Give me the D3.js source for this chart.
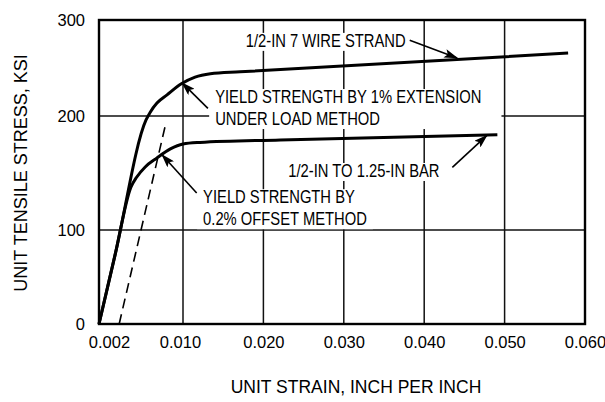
<!DOCTYPE html>
<html>
<head>
<meta charset="utf-8">
<script src="https://cdn.jsdelivr.net/npm/d3@7"></script>
<style>
body { margin: 0; background: #fff; }
svg { display: block; font-family: "Liberation Sans", Arial, Helvetica, sans-serif; }
</style>
</head>
<body>
<svg width="605" height="402"></svg>
<script>
// unit strain (in/in) vs unit tensile stress (ksi)
var strandStrain = [0, 0.0019, 0.0056, 0.0061, 0.0069, 0.0081, 0.0098, 0.0115, 0.0134, 0.0171, 0.0579];
var strandStress = [0, 73, 196.5, 204, 213.5, 222, 233.5, 240.5, 244, 246, 265.5];

var barStrain = [0, 0.0019, 0.0038, 0.0045, 0.0055, 0.0069, 0.0085, 0.0100, 0.0121, 0.0221, 0.0491];
var barStress = [0, 73, 137.5, 146.5, 155.3, 163.2, 171.1, 175.4, 176.8, 179, 183.5];

// 0.2% offset line
var offsetStrain = [0.0024, 0.0080];
var offsetStress = [0, 195];

var xTicks = [0, 0.010, 0.020, 0.030, 0.040, 0.050, 0.060];
var xTickLabels = ["0.002", "0.010", "0.020", "0.030", "0.040", "0.050", "0.060"];
var yTicks = [0, 100, 200, 300];
var yTickLabels = ["0", "100", "200", "300"];

var annotations = [
    {lines: ["1/2-IN 7 WIRE STRAND"], x: 0.0178, y: 272, from: [0.0382, 279], to: [0.0441, 260.5]},
    {lines: ["YIELD STRENGTH BY 1% EXTENSION", "UNDER LOAD METHOD"], x: 0.0140, y: 213.5, from: [0.0131, 208], to: [0.0099, 234.5]},
    {lines: ["1/2-IN TO 1.25-IN BAR"], x: 0.0231, y: 146.5, from: [0.0435, 155], to: [0.0478, 183]},
    {lines: ["YIELD STRENGTH BY", "0.2% OFFSET METHOD"], x: 0.0125, y: 123.5, from: [0.0117, 132.5], to: [0.0075, 166]}
];

var svg = d3.select("svg");
var plotLeft = 99, plotRight = 585, plotTop = 20, plotBottom = 324;

// the scanned grid is not quite even, so the scales are piecewise
var x = d3.scaleLinear().domain([0, 0.010, 0.060]).range([plotLeft, plotLeft + 84, plotRight]);
var y = d3.scaleLinear().domain([0, 100, 200, 300]).range([plotBottom, 230, 116, plotTop]);

// condense text to mimic the narrow lettering of the original
function squeeze(sel, k) {
    sel.each(function () {
        var len = this.getComputedTextLength();
        d3.select(this).attr("textLength", len * k).attr("lengthAdjust", "spacingAndGlyphs");
    });
}

svg.append("defs").append("marker")
    .attr("id", "arrow")
    .attr("markerUnits", "userSpaceOnUse")
    .attr("markerWidth", 14).attr("markerHeight", 9)
    .attr("refX", 13).attr("refY", 4.5)
    .attr("orient", "auto")
    .append("path")
    .attr("d", "M0,0 L14,4.5 L0,9 L3,4.5 Z")
    .attr("fill", "#000");

// grid
var grid = svg.append("g").attr("stroke", "#111").attr("stroke-width", 1.5);
grid.selectAll(".vx")
    .data(xTicks.slice(1, -1))
    .enter().append("line")
    .attr("x1", function (d) { return x(d); }).attr("x2", function (d) { return x(d); })
    .attr("y1", plotTop).attr("y2", plotBottom);
grid.selectAll(".hy")
    .data(yTicks.slice(1, -1))
    .enter().append("line")
    .attr("x1", plotLeft).attr("x2", plotRight)
    .attr("y1", function (d) { return y(d); }).attr("y2", function (d) { return y(d); });

svg.append("rect")
    .attr("x", plotLeft).attr("y", plotTop)
    .attr("width", plotRight - plotLeft).attr("height", plotBottom - plotTop)
    .attr("fill", "none").attr("stroke", "#000").attr("stroke-width", 2.4);

// axes labels
var xAxis = svg.append("g")
    .attr("transform", "translate(0," + plotBottom + ")")
    .call(d3.axisBottom(x).tickValues(xTicks).tickSize(0).tickPadding(12)
        .tickFormat(function (d, i) { return xTickLabels[i]; }));
xAxis.select(".domain").remove();
xAxis.selectAll("text")
    .attr("font-size", 16.5).attr("font-family", null).attr("fill", "#000")
    .attr("dx", function (d, i) { return i === 0 ? 10 : (i === 1 ? -3 : 0); });

var yAxis = svg.append("g")
    .attr("transform", "translate(" + plotLeft + ",0)")
    .call(d3.axisLeft(y).tickValues(yTicks).tickSize(0).tickPadding(14)
        .tickFormat(function (d, i) { return yTickLabels[i]; }));
yAxis.select(".domain").remove();
yAxis.selectAll("text").attr("font-size", 16.5).attr("font-family", null).attr("fill", "#000");

svg.append("text")
    .attr("transform", "translate(21," + ((plotTop + plotBottom) / 2 + 1) + ") rotate(-90)")
    .attr("text-anchor", "middle").attr("dy", "0.35em")
    .attr("font-size", 18)
    .text("UNIT TENSILE STRESS, KSI");

svg.append("text")
    .attr("x", 356).attr("y", 393)
    .attr("text-anchor", "middle")
    .attr("font-size", 17.5)
    .text("UNIT STRAIN, INCH PER INCH");

// annotation text with white knock-out behind it
annotations.forEach(function (a, k) {
    var g = svg.append("g");
    var t = g.selectAll("text")
        .data(a.lines)
        .enter().append("text")
        .attr("x", x(a.x))
        .attr("y", function (d, i) { return y(a.y) + i * 22; })
        .attr("font-size", 18)
        .text(function (d) { return d; });
    squeeze(t, 0.82);
    var b = g.node().getBBox();
    var extra = k === 1 ? 14 : 0;
    g.insert("rect", "text")
        .attr("x", b.x - 6).attr("y", b.y + 2)
        .attr("width", b.width + 12 + extra).attr("height", b.height - 2)
        .attr("fill", "#fff");
});

// curves
var line = d3.line().curve(d3.curveMonotoneX);

svg.append("path")
    .datum(strandStrain.map(function (d, i) { return [x(d), y(strandStress[i])]; }))
    .attr("d", line)
    .attr("fill", "none").attr("stroke", "#000").attr("stroke-width", 3);

svg.append("path")
    .datum(barStrain.map(function (d, i) { return [x(d), y(barStress[i])]; }))
    .attr("d", line)
    .attr("fill", "none").attr("stroke", "#000").attr("stroke-width", 3);

svg.append("path")
    .datum(offsetStrain.map(function (d, i) { return [x(d), y(offsetStress[i])]; }))
    .attr("d", d3.line())
    .attr("fill", "none").attr("stroke", "#000").attr("stroke-width", 1.6)
    .attr("stroke-dasharray", "10,6");

// arrows
svg.selectAll(".arrow")
    .data(annotations)
    .enter().append("line")
    .attr("x1", function (d) { return x(d.from[0]); })
    .attr("y1", function (d) { return y(d.from[1]); })
    .attr("x2", function (d) { return x(d.to[0]); })
    .attr("y2", function (d) { return y(d.to[1]); })
    .attr("stroke", "#000").attr("stroke-width", 1.6)
    .attr("marker-end", "url(#arrow)");
</script>
</body>
</html>
